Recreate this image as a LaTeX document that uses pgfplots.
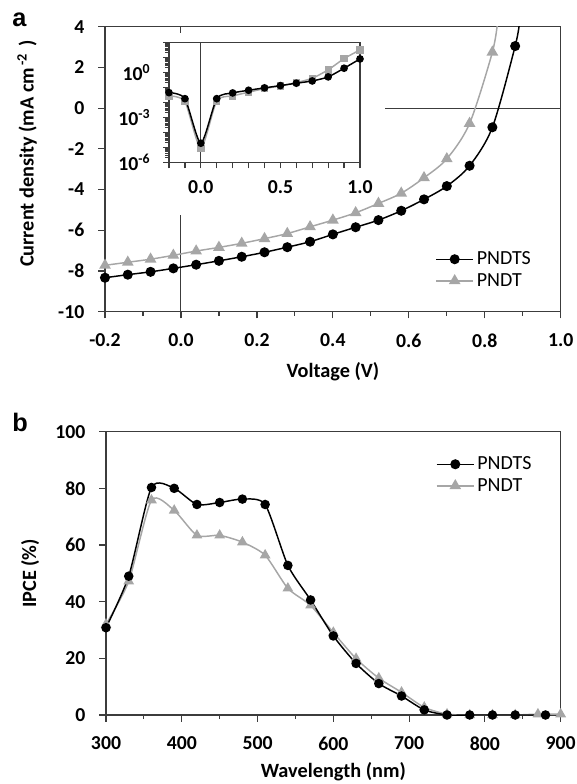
\documentclass[border=0pt]{standalone}
\usepackage{fontspec}
\setmainfont{Carlito}
\newfontfamily\arialfont{Liberation Sans}
\usepackage{pgfplots}
\pgfplotsset{compat=1.18}
\definecolor{pgray}{RGB}{166,166,166}
\definecolor{axgray}{RGB}{60,60,60}
\pgfplotsset{
  mystyle/.style={
    scale only axis,
    axis line style={axgray, line width=0.9pt},
    every tick/.style={axgray, line width=0.9pt},
    tick align=outside,
    major tick length=5pt,
    minor tick length=3pt,
    xtick pos=left, ytick pos=left,
    ticklabel style={font=\fontsize{14.8}{17}\selectfont\bfseries},
    label style={font=\fontsize{15.2}{18}\selectfont\bfseries},
    /pgf/number format/assume math mode=true,
    legend style={draw=none, fill=none, inner sep=0pt, row sep=1pt,
      font=\fontsize{15}{18}\selectfont, nodes={inner sep=2pt}},
    legend cell align=left,
    legend image code/.code={
      \draw[mark repeat=2,mark phase=2,#1] plot coordinates {(0pt,0pt) (14pt,0pt) (28pt,0pt)};
    },
  },
  mainshift/.style={
    xticklabel style={yshift=-8pt},
    yticklabel style={xshift=-7pt},
  },
}
\begin{document}
\begin{tikzpicture}
\useasboundingbox (0,0) rectangle (432.75pt,588pt);
% panel labels
\node[anchor=base west, inner sep=0pt, font=\arialfont\fontsize{19}{22}\selectfont\bfseries] at (9pt,567.75pt) {a};
\node[anchor=base west, inner sep=0pt, font=\arialfont\fontsize{19}{22}\selectfont\bfseries] at (9pt,264.2pt) {b};

% ---------------- panel a ----------------
\begin{axis}[mystyle, mainshift,
  at={(78.75pt,354.2pt)}, anchor=south west,
  width=341.8pt, height=213.75pt,
  xmin=-0.2, xmax=1.0, ymin=-10, ymax=4,
  xtick={-0.2,0,0.2,0.4,0.6,0.8,1.0}, minor x tick num=1,
  ytick={-10,-8,-6,-4,-2,0,2,4},
  xticklabel style={/pgf/number format/.cd, fixed, fixed zerofill, precision=1},
  xlabel={Voltage (V)},
  ylabel={Current density (mA cm\textsuperscript{\,-2}\,\,)},
  xlabel style={at={(axis description cs:0.5,-0.212)}, anchor=center},
  ylabel style={at={(axis description cs:-0.171,0.555)}, anchor=center},
  legend style={at={(axis cs:0.669,-7.95)}, anchor=west},
]
\addlegendimage{black, line width=1.1pt, mark=*, mark size=3.2pt}
\addlegendentry{PNDTS}
\addlegendimage{pgray, line width=1.1pt, mark=triangle*, mark size=4pt}
\addlegendentry{PNDT}
\draw[axgray, line width=0.8pt] (axis cs:0,-10) -- (axis cs:0,-5.23);
\draw[axgray, line width=0.8pt] (axis cs:0.538,0) -- (axis cs:1.0,0);
\draw[axgray, line width=0.8pt] (axis cs:0,4) -- (axis cs:0,3.7);
\addplot[forget plot, pgray, line width=1.1pt, smooth, tension=0.5, mark=triangle*, mark size=4pt, mark indices={1,...,18}] coordinates {
(-0.20,-7.72) (-0.14,-7.57) (-0.08,-7.42) (-0.02,-7.23) (0.04,-7.02) (0.10,-6.84)
(0.16,-6.64) (0.22,-6.41) (0.28,-6.16) (0.34,-5.83) (0.40,-5.50) (0.46,-5.14)
(0.52,-4.68) (0.58,-4.18) (0.64,-3.42) (0.70,-2.49) (0.76,-0.75) (0.82,2.75) (0.834,4.3)
};
\addplot[forget plot, black, line width=1.1pt, smooth, tension=0.5, mark=*, mark size=3.2pt, mark indices={1,...,19}] coordinates {
(-0.20,-8.33) (-0.14,-8.18) (-0.08,-8.04) (-0.02,-7.87) (0.04,-7.69) (0.10,-7.50)
(0.16,-7.30) (0.22,-7.08) (0.28,-6.83) (0.34,-6.56) (0.40,-6.20) (0.46,-5.85)
(0.52,-5.50) (0.58,-5.04) (0.64,-4.48) (0.70,-3.83) (0.76,-2.83) (0.82,-0.94) (0.88,3.05) (0.892,4.3)
};
\end{axis}

% ---------------- inset ----------------
\begin{axis}[mystyle,
  at={(126.75pt,466.3pt)}, anchor=south west,
  width=143.25pt, height=90pt,
  xmin=-0.2, xmax=1.0, ymin=1e-6, ymax=1e2, ymode=log,
  major tick length=4.5pt,
  xticklabel style={yshift=-6pt},
  yticklabel style={xshift=-6pt},
  xtick={-0.2,-0.1,0,0.1,0.2,0.3,0.4,0.5,0.6,0.7,0.8,0.9,1.0},
  xticklabels={,,0.0,,,,,0.5,,,,,1.0},
  ytick={1e-6,1e-5,1e-4,1e-3,1e-2,1e-1,1e0,1e1,1e2},
  yticklabels={10\textsuperscript{-6},,,10\textsuperscript{-3},,,10\textsuperscript{0},,},
  minor tick num=0,
]
\draw[axgray, line width=0.8pt] (axis cs:0,1e-6) -- (axis cs:0,1e2);
\addplot[pgray, line width=1.1pt, smooth, tension=0.4, mark=square*, mark size=2.2pt] coordinates {
(-0.2,0.0263) (-0.1,0.0110) (0.0,8.5e-6) (0.1,0.0123) (0.2,0.0263) (0.3,0.0468)
(0.4,0.0813) (0.5,0.123) (0.6,0.204) (0.7,0.398) (0.8,1.45) (0.9,8.13) (1.0,30.9)
};
\addplot[black, line width=1.1pt, smooth, tension=0.4, mark=*, mark size=2.3pt] coordinates {
(-0.2,0.0437) (-0.1,0.0174) (0.0,1.86e-5) (0.1,0.0174) (0.2,0.0417) (0.3,0.0631)
(0.4,0.0912) (0.5,0.129) (0.6,0.186) (0.7,0.263) (0.8,0.490) (0.9,1.86) (1.0,7.76)
};
\end{axis}

% ---------------- panel b ----------------
\begin{axis}[mystyle, mainshift,
  at={(79.5pt,51.75pt)}, anchor=south west,
  width=341pt, height=212.5pt,
  xmin=300, xmax=900, ymin=0, ymax=100,
  xtick={300,400,500,600,700,800,900}, minor x tick num=1,
  ytick={0,20,40,60,80,100},
  xlabel={Wavelength (nm)},
  ylabel={IPCE (\%)},
  xlabel style={at={(axis description cs:0.5,-0.2)}, anchor=center},
  ylabel style={at={(axis description cs:-0.167,0.5)}, anchor=center},
  legend style={at={(axis cs:735,84.7)}, anchor=west},
]
\addlegendimage{black, line width=1.1pt, mark=*, mark size=3.2pt}
\addlegendentry{PNDTS}
\addlegendimage{pgray, line width=1.1pt, mark=triangle*, mark size=4pt}
\addlegendentry{PNDT}
\addplot[forget plot, pgray, line width=1.1pt, smooth, tension=0.4, mark=triangle*, mark size=3.6pt] coordinates {
(300,32.0) (330,47.2) (360,75.8) (390,72.2) (420,63.4) (450,63.4) (480,61.0)
(510,56.4) (540,44.7) (570,38.7) (600,29.1) (630,19.9) (660,13.0) (690,8.0)
(720,2.7) (750,0.3) (780,0) (810,0) (840,0) (870,0.3) (900,0.3)
};
\addplot[forget plot, black, line width=1.1pt, smooth, tension=0.4, mark=*, mark size=3pt] coordinates {
(300,30.8) (330,49.0) (360,80.3) (390,80.0) (420,74.3) (450,75.0) (480,76.2)
(510,74.3) (540,52.8) (570,40.6) (600,27.9) (630,18.2) (660,11.1) (690,6.7)
(720,1.8) (750,0) (780,0) (810,0) (840,0) (880,0)
};
\end{axis}
\end{tikzpicture}
\end{document}
